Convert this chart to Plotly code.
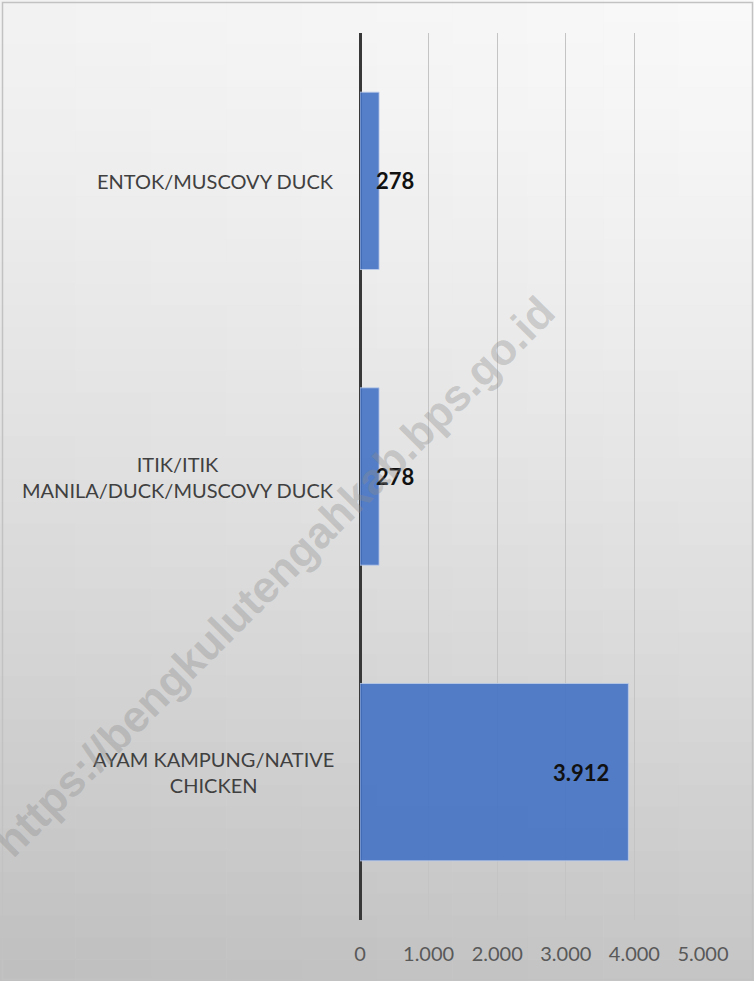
import plotly.graph_objects as go

# ---- data ----
categories = ["AYAM KAMPUNG/NATIVE<br>CHICKEN",
              "ITIK/ITIK<br>MANILA/DUCK/MUSCOVY DUCK",
              "ENTOK/MUSCOVY DUCK"]
values = [3912, 278, 278]
tick_values = [0, 1000, 2000, 3000, 4000, 5000]
tick_labels = ["0", "1.000", "2.000", "3.000", "4.000", "5.000"]
watermark = "https://bengkulutengahkab.bps.go.id"

# ---- geometry ----
W, H = 754, 981
ML, MR, MT, MB = 360, 51, 33, 61
PW, PH = W - ML - MR, H - MT - MB
XMAX = 5000


def px(xp):
    return (xp - ML) / PW


def py(yp):
    return (H - MB - yp) / PH


FONT = "Lato"

fig = go.Figure()
fig.add_trace(go.Bar(
    y=categories, x=values, orientation="h",
    marker=dict(color="rgba(68,114,196,0.9)",
                line=dict(color="rgba(190,205,235,0.8)", width=1)),
    hoverinfo="skip",
))

shapes = []
# gradient background (grid of rectangles)
NC, NR = 10, 45
for i in range(NC):
    for j in range(NR):
        x0p, x1p = W * i / NC, W * (i + 1) / NC
        y0p, y1p = H * j / NR, H * (j + 1) / NR
        xc, yc = (x0p + x1p) / 2 / W, (y0p + y1p) / 2 / H
        c = 249 - 52 * (yc ** 1.35) - 7 * (1 - xc)
        c = int(round(c))
        shapes.append(dict(type="rect", xref="paper", yref="paper", layer="below",
                           x0=px(x0p), x1=px(x1p + 0.5), y0=py(y1p + 0.5), y1=py(y0p),
                           line=dict(width=0), fillcolor=f"rgb({c},{c},{c})"))
# frame
shapes.append(dict(type="rect", xref="paper", yref="paper", layer="above",
                   x0=px(2.5), x1=px(W - 1.5), y0=py(H - 1.5), y1=py(2.5),
                   line=dict(color="#c2c2c2", width=1.5), fillcolor="rgba(0,0,0,0)"))

annotations = []
# category labels: block right-aligned next to the axis, lines centred
for cat in categories:
    annotations.append(dict(x=0, xref="paper", y=cat, yref="y", text=cat,
                            xanchor="right", yanchor="middle", align="center",
                            xshift=-24, showarrow=False,
                            font=dict(family=FONT, size=20, color="#404040")))
# data labels
px_per_unit = PW / XMAX
for cat, v in zip(categories, values):
    txt = f"{v:,}".replace(",", ".")
    inside = v * px_per_unit > 60
    annotations.append(dict(x=v, xref="x", y=cat, yref="y", text=f"<b>{txt}</b>",
                            xanchor="right" if inside else "left",
                            xshift=-17 if inside else -5,
                            yanchor="middle", showarrow=False,
                            font=dict(family=FONT, size=22, color="#111111")))
# watermark
annotations.append(dict(x=px(274), y=py(576), xref="paper", yref="paper",
                        text=f"<b>{watermark}</b>", textangle=-45, showarrow=False,
                        xanchor="center", yanchor="middle",
                        font=dict(family="Liberation Sans", size=44,
                                  color="rgba(140,140,140,0.36)")))

fig.update_layout(
    width=W, height=H,
    margin=dict(l=ML, r=MR, t=MT, b=MB, pad=0),
    paper_bgcolor="#e4e4e4", plot_bgcolor="rgba(0,0,0,0)",
    showlegend=False, bargap=0.4,
    shapes=shapes, annotations=annotations,
    xaxis=dict(range=[0, XMAX], tickvals=tick_values, ticktext=tick_labels,
               showgrid=True, gridcolor="#c4c4c4", gridwidth=1.3,
               zeroline=True, zerolinecolor="#383838", zerolinewidth=3,
               showline=False, ticks="", ticklabelstandoff=20,
               tickfont=dict(family=FONT, size=20, color="#595959"),
               fixedrange=True),
    yaxis=dict(showticklabels=False, showgrid=False, zeroline=False,
               showline=False, ticks="", range=[-0.5, 2.5], fixedrange=True),
)

post = """
document.body.style.margin = '0';
document.body.style.overflow = 'hidden';
"""
fig.write_html("out.html", post_script=post, config={"displayModeBar": False})
